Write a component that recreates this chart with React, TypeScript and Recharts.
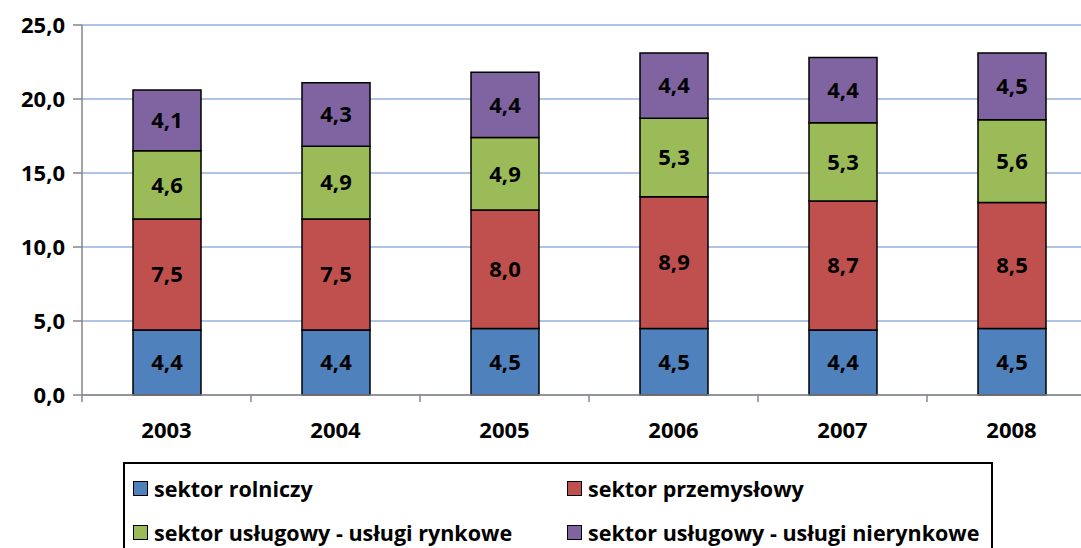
import { Bar, BarChart, CartesianGrid, LabelList, XAxis, YAxis } from "recharts";

const years = ["2003", "2004", "2005", "2006", "2007", "2008"];
const rolniczy = [4.4, 4.4, 4.5, 4.5, 4.4, 4.5];
const przemyslowy = [7.5, 7.5, 8.0, 8.9, 8.7, 8.5];
const rynkowe = [4.6, 4.9, 4.9, 5.3, 5.3, 5.6];
const nierynkowe = [4.1, 4.3, 4.4, 4.4, 4.4, 4.5];
const yTicks = [0, 5, 10, 15, 20, 25];

const series = [
  { key: "rol", name: "sektor rolniczy", color: "#4F81BD" },
  { key: "prz", name: "sektor przemysłowy", color: "#C0504D" },
  { key: "ryn", name: "sektor usługowy - usługi rynkowe", color: "#9BBB59" },
  { key: "nie", name: "sektor usługowy - usługi nierynkowe", color: "#8064A2" },
];

const data = years.map((y, i) => ({
  year: y,
  rol: rolniczy[i],
  prz: przemyslowy[i],
  ryn: rynkowe[i],
  nie: nierynkowe[i],
}));

const W = 1100;
const H = 548;
const M = { top: 25, right: 4, left: 0, bottom: 93 };
const Y_W = 82;
const band = (W - M.left - M.right - Y_W) / years.length;
const FONT = "'Open Sans', Lato, sans-serif";

const fmt = (v: any) => Number(v).toFixed(1).replace(".", ",");

const YearTick = (props: any) => {
  const { x, y, payload } = props;
  const axisY = y - 8;
  return (
    <g>
      <line x1={x - band / 2} x2={x - band / 2} y1={axisY} y2={axisY + 7} stroke="#868686" strokeWidth={1.5} />
      <text x={x} y={y + 35} textAnchor="middle" fontSize={22} fontWeight={700} fill="#000">
        {payload.value}
      </text>
    </g>
  );
};

export default function App() {
  return (
    <div
      style={{
        position: "fixed",
        left: 0,
        top: 0,
        width: 1081,
        height: 548,
        overflow: "hidden",
        background: "#fff",
        fontFamily: FONT,
      }}
    >
      <BarChart width={W} height={H} data={data} margin={M} barSize={68}>
        <CartesianGrid vertical={false} stroke="#AFC4E6" strokeWidth={2} />
        <XAxis
          dataKey="year"
          tick={<YearTick />}
          tickLine={false}
          tickSize={6}
          tickMargin={2}
          height={60}
          axisLine={{ stroke: "#868686", strokeWidth: 1.5 }}
        />
        <YAxis
          width={Y_W}
          domain={[0, 25]}
          ticks={yTicks}
          tickFormatter={fmt}
          tickSize={9}
          tickMargin={8}
          tick={{ fontSize: 22, fontWeight: 700, fill: "#000" }}
          tickLine={{ stroke: "#868686", strokeWidth: 1.5 }}
          axisLine={{ stroke: "#868686", strokeWidth: 1.5 }}
        />
        {series.map((s) => (
          <Bar
            key={s.key}
            dataKey={s.key}
            name={s.name}
            stackId="a"
            fill={s.color}
            stroke="#000"
            strokeWidth={1.5}
            isAnimationActive={false}
          >
            <LabelList
              dataKey={s.key}
              position="center"
              formatter={fmt}
              style={{ fontSize: 22, fontWeight: 700, fill: "#000" }}
            />
          </Bar>
        ))}
      </BarChart>
      <div
        style={{
          position: "absolute",
          left: 123,
          top: 462,
          width: 870,
          height: 120,
          border: "2px solid #000",
          boxSizing: "border-box",
        }}
      >
        {series.map((s, i) => (
          <div
            key={s.key}
            style={{
              position: "absolute",
              left: i % 2 === 0 ? 8 : 442,
              top: i < 2 ? 10 : 54,
              display: "flex",
              alignItems: "center",
              whiteSpace: "nowrap",
              fontSize: 21.5,
              fontWeight: 700,
              color: "#000",
            }}
          >
            <span
              style={{
                display: "inline-block",
                width: 13,
                height: 13,
                background: s.color,
                border: "1.5px solid #000",
                marginRight: 6,
              }}
            />
            {s.name}
          </div>
        ))}
      </div>
    </div>
  );
}
